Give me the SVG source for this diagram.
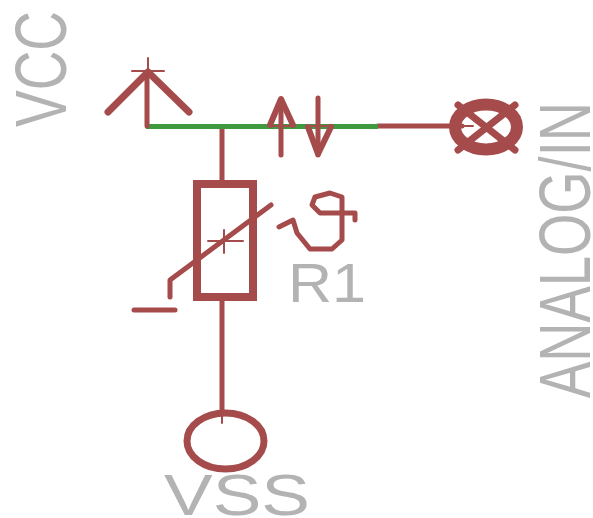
<svg xmlns="http://www.w3.org/2000/svg" width="593" height="518" viewBox="0 0 593 518">
<style>
.w{fill:none;stroke:#a54b4b;stroke-linecap:round;stroke-linejoin:round}
.t{font-family:"Liberation Sans",Arial,sans-serif;fill:#b3b3b3}
</style>
<rect width="593" height="518" fill="#fff"/>
<g id="connectors">
<path class="w" stroke-width="5" d="M222 127V182M222 298V412M378 126H462"/>
<path class="w" stroke-width="2" d="M222 412V423M462 126H473"/>
<path d="M146 126.500H378" fill="none" stroke="#3f9a3f" stroke-width="5"/>
</g>
<g id="vcc">
<path class="w" stroke-width="5" d="M147 126V72"/>
<path class="w" stroke-width="7" d="M108 112L148 72L189 112"/>
<path class="w" stroke-width="2" d="M132 71H164M148 58V84"/>
<text class="t" font-size="72" textLength="116" lengthAdjust="spacingAndGlyphs" transform="translate(66 127) rotate(-90)">VCC</text>
</g>
<g id="flags">
<path class="w" stroke-width="5" d="M281 155V100M318 98V155"/>
<path class="w" stroke-width="6" d="M270 125L281 99L293 125M308 127L318 154L331 127"/>
<path class="w" stroke-width="2" d="M268 126H295M306 126H333"/>
</g>
<g id="analog">
<ellipse cx="486" cy="127" rx="31" ry="22.500" fill="none" stroke="#a54b4b" stroke-width="12"/>
<path class="w" stroke-width="7" d="M458 105L515 150M515 105L458 150"/>
<text class="t" font-size="72" textLength="296" lengthAdjust="spacingAndGlyphs" transform="translate(590 398) rotate(-90)">ANALOG/IN</text>
</g>
<g id="R1">
<rect x="197" y="184" width="56" height="113" fill="none" stroke="#a54b4b" stroke-width="8"/>
<path class="w" stroke-width="5" d="M170 297V280L271 205"/>
<path class="w" stroke-width="2" d="M208 241H243M224 230V253"/>
<path class="w" stroke-width="5" d="M134 310H175"/>
<path class="w" stroke-width="5" d="M279 227L293 220L297 233L310 249H332L342 240V197L330 193L315 197L312 205L320 213H355V220"/>
<text class="t" font-size="56" textLength="78" lengthAdjust="spacingAndGlyphs" x="288" y="302">R1</text>
</g>
<g id="vss">
<ellipse cx="225.500" cy="441" rx="38.500" ry="28" fill="none" stroke="#a54b4b" stroke-width="7"/>
<text class="t" font-size="58" textLength="146" lengthAdjust="spacingAndGlyphs" x="164" y="515">VSS</text>
</g>
</svg>
